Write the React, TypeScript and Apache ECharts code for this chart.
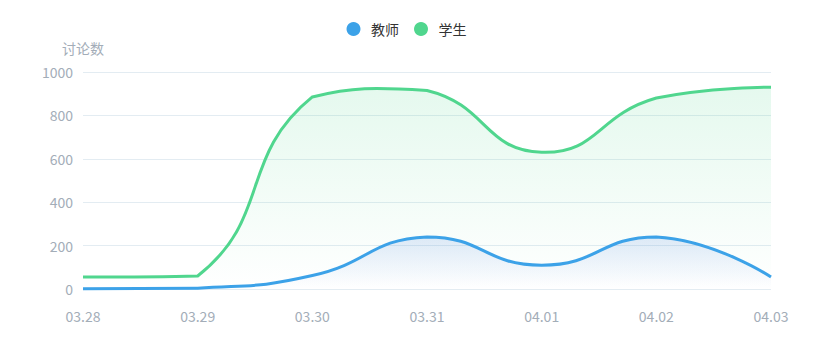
import React, { useEffect, useRef } from "react";
import * as echarts from "echarts";

const categories = ["03.28", "03.29", "03.30", "03.31", "04.01", "04.02", "04.03"];
const teacherValues = [1, 4, 62, 240, 110, 240, 55];
const studentValues = [55, 60, 885, 915, 630, 880, 930];
const seriesNames = ["教师", "学生"];
const yTicks = [0, 200, 400, 600, 800, 1000];

// Smooth path in the style of the classic line-series smoothing (constrained to bounding box)
function smoothPath(pts: number[][], smooth: number) {
  let minX = Infinity, minY = Infinity, maxX = -Infinity, maxY = -Infinity;
  pts.forEach((p) => {
    minX = Math.min(minX, p[0]); minY = Math.min(minY, p[1]);
    maxX = Math.max(maxX, p[0]); maxY = Math.max(maxY, p[1]);
  });
  const clamp = (c: number[]) => [
    Math.max(minX, Math.min(maxX, c[0])),
    Math.max(minY, Math.min(maxY, c[1])),
  ];
  let d = `M${pts[0][0]},${pts[0][1]}`;
  let cp0 = [pts[0][0], pts[0][1]];
  for (let i = 1; i < pts.length; i++) {
    const p = pts[i];
    const prev = pts[i - 1];
    const next = pts[i + 1];
    let cp1 = [p[0], p[1]];
    let ratio = 0.5;
    let v = [0, 0];
    if (next) {
      v = [next[0] - prev[0], next[1] - prev[1]];
      const l0 = Math.hypot(p[0] - prev[0], p[1] - prev[1]);
      const l1 = Math.hypot(next[0] - p[0], next[1] - p[1]);
      ratio = l1 / (l0 + l1);
      cp1 = [p[0] - v[0] * smooth * (1 - ratio), p[1] - v[1] * smooth * (1 - ratio)];
    }
    const a = clamp(cp0);
    const b = clamp(cp1);
    d += ` C${a[0]},${a[1]} ${b[0]},${b[1]} ${p[0]},${p[1]}`;
    cp0 = [p[0] + v[0] * smooth * ratio, p[1] + v[1] * smooth * ratio];
  }
  return d;
}

function makeSeries(name: string, values: number[], color: string, areaTop: string, z: number) {
  return {
    name,
    type: "custom",
    z,
    itemStyle: { color },
    data: values.map((v, i) => [i, v]),
    encode: { x: 0, y: 1 },
    renderItem: (params: any, api: any) => {
      if (params.dataIndex !== 0) return null;
      const pts = values.map((v, i) => api.coord([i, v]));
      const base = api.coord([0, 0])[1];
      const line = smoothPath(pts, 0.5);
      const area =
        line + ` L${pts[pts.length - 1][0]},${base} L${pts[0][0]},${base} Z`;
      return {
        type: "group",
        children: [
          {
            type: "path",
            shape: { pathData: area },
            style: {
              fill: new echarts.graphic.LinearGradient(0, 0, 0, 1, [
                { offset: 0, color: areaTop },
                { offset: 1, color: areaTop.replace(/[\d.]+\)$/, "0)") },
              ]),
              stroke: "none",
            },
            silent: true,
          },
          {
            type: "path",
            shape: { pathData: line },
            style: { fill: "none", stroke: color, lineWidth: 3 },
            silent: true,
          },
        ],
      };
    },
  };
}

export default function App() {
  const ref = useRef<HTMLDivElement>(null);
  useEffect(() => {
    if (!ref.current) return;
    const chart = echarts.init(ref.current, null, { renderer: "svg" });
    const font = "'Noto Sans CJK SC', 'Noto Sans', sans-serif";
    const grey = "#a3adb8";
    chart.setOption({
      animation: false,
      textStyle: { fontFamily: font },
      legend: {
        top: 9,
        left: "center",
        icon: "circle",
        itemWidth: 25,
        itemHeight: 14,
        itemGap: 15,
        textStyle: { color: "#333", fontSize: 14, fontFamily: font },
        data: seriesNames,
      },
      grid: { left: 75, right: 34, top: 64, bottom: 63 },
      xAxis: {
        type: "category",
        boundaryGap: false,
        data: categories,
        axisLine: { show: false },
        axisTick: { show: false },
        axisLabel: { color: grey, fontSize: 14, margin: 20, fontFamily: font },
      },
      yAxis: {
        type: "value",
        min: yTicks[0],
        max: yTicks[yTicks.length - 1],
        interval: yTicks[1] - yTicks[0],
        name: "讨论数",
        nameGap: 17,
        nameTextStyle: { color: grey, fontSize: 14, fontFamily: font },
        axisLine: { show: false },
        axisTick: { show: false },
        axisLabel: {
          color: grey,
          fontSize: 14,
          margin: 10,
          fontFamily: font,
          formatter: (v: number) => String(v),
        },
        splitLine: { lineStyle: { color: "#e3ecf2", width: 1 } },
      },
      series: [
        makeSeries(seriesNames[0], teacherValues, "#3ca2e8", "rgba(90,140,225,0.18)", 3),
        makeSeries(seriesNames[1], studentValues, "#50d68e", "rgba(80,214,142,0.15)", 2),
      ],
    });
    return () => chart.dispose();
  }, []);
  return <div ref={ref} style={{ width: 797, height: 344 }} />;
}
